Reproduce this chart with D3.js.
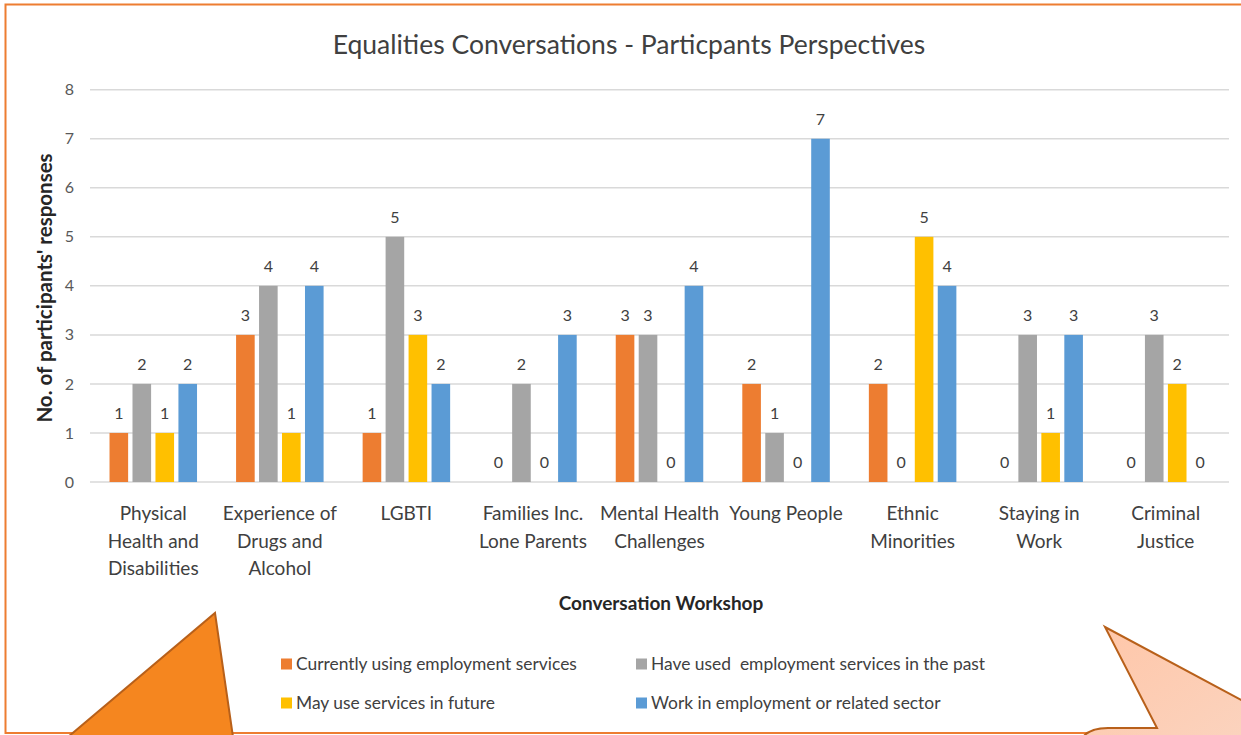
<!DOCTYPE html>
<html>
<head>
<meta charset="utf-8">
<script src="https://cdn.jsdelivr.net/npm/d3@7"></script>
<style>
  html, body { margin: 0; padding: 0; background: #fff; }
  svg { display: block; font-family: Lato, 'Open Sans', sans-serif; }
</style>
</head>
<body>
<svg id="chart" width="1241" height="735"></svg>
<script>
// workshop categories (label lines)
const categories = [
  ['Physical', 'Health and', 'Disabilities'],
  ['Experience of', 'Drugs and', 'Alcohol'],
  ['LGBTI'],
  ['Families Inc.', 'Lone Parents'],
  ['Mental Health', 'Challenges'],
  ['Young People'],
  ['Ethnic', 'Minorities'],
  ['Staying in', 'Work'],
  ['Criminal', 'Justice']
]

const seriesNames = [
  'Currently using employment services',
  'Have used  employment services in the past',
  'May use services in future',
  'Work in employment or related sector'
]

const currentlyUsing = [1, 3, 1, 0, 3, 2, 2, 0, 0]
const usedInPast = [2, 4, 5, 2, 3, 1, 0, 3, 3]
const mayUseFuture = [1, 1, 3, 0, 0, 0, 5, 1, 2]
const workInSector = [2, 4, 2, 3, 4, 7, 4, 3, 0]

const yTicks = [0, 1, 2, 3, 4, 5, 6, 7, 8]

const colors = ['#ED7D31', '#A5A5A5', '#FFC000', '#5B9BD5']

const svg = d3.select('#chart')
const W = 1241
const H = 735
const plot = { left: 90, right: 1229, top: 89.7, bottom: 482 }

svg.append('rect').attr('width', W).attr('height', H).attr('fill', '#fff')

// orange frame round the chart
svg.append('rect')
  .attr('x', 5.5).attr('y', 4.5)
  .attr('width', W + 10).attr('height', 728.5)
  .attr('fill', 'none')
  .attr('stroke', '#ED7D31')
  .attr('stroke-width', 2)

const keys = categories.map((c, i) => i)
const allSeries = [currentlyUsing, usedInPast, mayUseFuture, workInSector]

const x = d3.scaleBand().domain(keys).range([plot.left, plot.right]).padding(0)
const xInner = d3.scaleBand().domain(d3.range(seriesNames.length))
  .range([0, x.bandwidth()])
  .paddingInner(0.19)
  .paddingOuter(0.85)
const y = d3.scaleLinear().domain([0, 8]).range([plot.bottom, plot.top])

// gridlines
svg.append('g')
  .selectAll('line')
  .data(yTicks)
  .join('line')
  .attr('x1', plot.left).attr('x2', plot.right)
  .attr('y1', d => y(d)).attr('y2', d => y(d))
  .attr('stroke', '#D9D9D9')
  .attr('stroke-width', 1.5)

// y tick labels
svg.append('g')
  .selectAll('text')
  .data(yTicks)
  .join('text')
  .attr('x', 74)
  .attr('y', d => y(d))
  .attr('dy', '0.35em')
  .attr('text-anchor', 'end')
  .attr('fill', '#595959')
  .style('font-size', '16px')
  .text(d => d)

// bars
const groups = svg.append('g')
  .selectAll('g')
  .data(keys)
  .join('g')
  .attr('transform', d => `translate(${x(d)},0)`)

groups.selectAll('rect')
  .data(i => allSeries.map((s, j) => ({ s: j, v: s[i] })))
  .join('rect')
  .attr('x', d => xInner(d.s))
  .attr('width', xInner.bandwidth())
  .attr('y', d => y(d.v))
  .attr('height', d => y(0) - y(d.v))
  .attr('fill', d => colors[d.s])

groups.selectAll('text')
  .data(i => allSeries.map((s, j) => ({ s: j, v: s[i] })))
  .join('text')
  .attr('x', d => xInner(d.s) + xInner.bandwidth() / 2)
  .attr('y', d => y(d.v) - 14)
  .attr('text-anchor', 'middle')
  .attr('fill', '#404040')
  .style('font-size', '16px')
  .text(d => d.v)

// category labels
const catLabels = svg.append('g')
  .selectAll('text')
  .data(keys)
  .join('text')
  .attr('x', d => x(d) + x.bandwidth() / 2)
  .attr('y', 520)
  .attr('text-anchor', 'middle')
  .attr('fill', '#404040')
  .style('font-size', '19px')

catLabels.selectAll('tspan')
  .data(d => categories[d])
  .join('tspan')
  .attr('x', function () { return d3.select(this.parentNode).attr('x') })
  .attr('dy', (d, i) => i === 0 ? 0 : 27.5)
  .text(d => d)

// title
svg.append('text')
  .attr('x', 629)
  .attr('y', 54)
  .attr('text-anchor', 'middle')
  .attr('fill', '#404040')
  .style('font-size', '26.5px')
  .text('Equalities Conversations - Particpants Perspectives')

// axis titles
svg.append('text')
  .attr('x', 661)
  .attr('y', 610)
  .attr('text-anchor', 'middle')
  .attr('fill', '#262626')
  .style('font-size', '19px')
  .style('font-weight', 'bold')
  .text('Conversation Workshop')

svg.append('text')
  .attr('transform', 'translate(52,288) rotate(-90)')
  .attr('text-anchor', 'middle')
  .attr('fill', '#262626')
  .style('font-size', '20.5px')
  .style('font-weight', 'bold')
  .text("No. of participants' responses")

// legend
const legendPos = [[281, 664], [636, 664], [281, 703], [636, 703]]
const legend = svg.append('g')
  .selectAll('g')
  .data(seriesNames)
  .join('g')
  .attr('transform', (d, i) => `translate(${legendPos[i][0]},${legendPos[i][1]})`)

legend.append('rect')
  .attr('x', 0).attr('y', -5.5)
  .attr('width', 11).attr('height', 11)
  .attr('fill', (d, i) => colors[i])

legend.append('text')
  .attr('x', 15)
  .attr('dy', '0.35em')
  .attr('fill', '#404040')
  .style('font-size', '17.4px')
  .style('white-space', 'pre')
  .text(d => d)

// decorative callout shapes along the bottom edge
svg.append('path')
  .attr('d', 'M68,737 L215,613 L233,737 Z')
  .attr('fill', '#F5861F')
  .attr('stroke', '#B8601A')
  .attr('stroke-width', 2)

const grad = svg.append('defs').append('linearGradient')
  .attr('id', 'peach').attr('x1', 0).attr('y1', 0).attr('x2', 1).attr('y2', 1)
grad.append('stop').attr('offset', 0).attr('stop-color', '#FFC6A8')
grad.append('stop').attr('offset', 1).attr('stop-color', '#FBD3BE')

svg.append('path')
  .attr('d', 'M1083,737 Q1090,728 1108,728 L1157,728 L1105,627 L1245,702 L1245,737 Z')
  .attr('fill', 'url(#peach)')
  .attr('stroke', '#B8601A')
  .attr('stroke-width', 2)
</script>
</body>
</html>
